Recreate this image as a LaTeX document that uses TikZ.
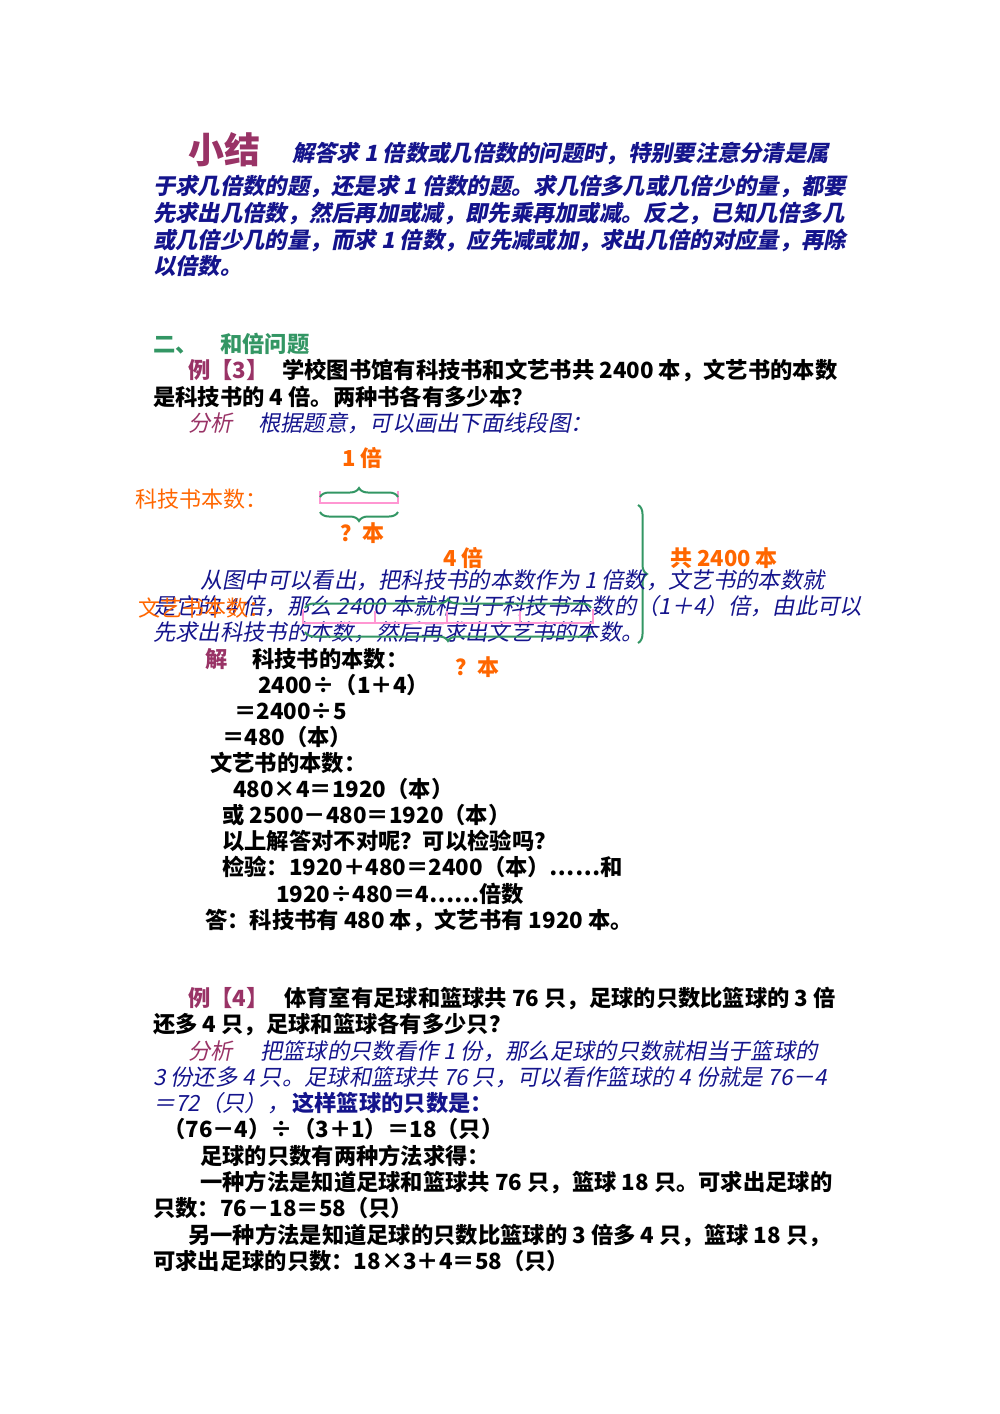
\documentclass[tikz,border=0pt]{standalone}
\usepackage{fontspec}
\setmainfont{Noto Sans CJK SC}
\newfontfamily\cjk{Noto Sans CJK SC}
\newfontfamily\cjki{Noto Sans CJK SC}[FakeSlant=0.2]
\usetikzlibrary{decorations.pathreplacing}
\definecolor{navy}{RGB}{20,20,140}
\definecolor{plum}{RGB}{153,51,102}
\definecolor{org}{RGB}{255,102,0}
\definecolor{grn}{RGB}{51,150,100}
\definecolor{pnk}{RGB}{255,150,210}
\begin{document}
\begin{tikzpicture}[x=1pt,y=-1pt,
 T/.style={anchor=base west,inner sep=0pt,font=\fontsize{22.3}{26}\selectfont\cjk},
 I/.style={T,text=navy,font=\fontsize{22.3}{26}\selectfont\cjki},
 IB/.style={T,text=navy,font=\fontsize{22.3}{26}\selectfont\cjki\bfseries},
 B/.style={T,font=\fontsize{22.3}{26}\selectfont\cjk\bfseries},
 O/.style={T,text=org,font=\fontsize{22}{26}\selectfont\cjk},
 OB/.style={T,text=org,font=\fontsize{22}{26}\selectfont\cjk\bfseries},
 P/.style={T,text=plum,font=\fontsize{22.3}{26}\selectfont\cjk\bfseries},
 br/.style={draw=grn,line width=2pt,decorate,decoration={brace,amplitude=9pt}},
 bar/.style={draw=pnk,line width=2.2pt}]
\useasboundingbox (0,0) rectangle (1000,1414);
% summary
\node[P,font=\fontsize{36}{40}\selectfont\cjk\bfseries] (xj) at (188,163) {小结};
\node[IB] (s1) at (292,161) {解答求 1 倍数或几倍数的问题时，特别要注意分清是属};
\node[IB] (s2) at (153,194) {于求几倍数的题，还是求 1 倍数的题。求几倍多几或几倍少的量，都要};
\node[IB] (s3) at (153,221) {先求出几倍数，然后再加或减，即先乘再加或减。反之，已知几倍多几};
\node[IB] (s4) at (153,248) {或几倍少几的量，而求 1 倍数，应先减或加，求出几倍的对应量，再除};
\node[IB] (s5) at (153,274) {以倍数。};
% section 2
\node[T,text=grn,font=\fontsize{22.3}{26}\selectfont\cjk\bfseries] (h2) at (153,352) {二、\quad 和倍问题};
\node[P] (e3) at (188,378) {例【3】};
\node[B] (q1) at (282,378) {学校图书馆有科技书和文艺书共 2400 本，文艺书的本数};
\node[B] (q2) at (153,405) {是科技书的 4 倍。两种书各有多少本？};
\node[I,text=plum] (fx) at (188,431) {分析};
\node[I] (fx2) at (258,431) {根据题意，可以画出下面线段图：};
% diagram
\node[OB] (b1) at (342,466) {1 倍};
\node[O] (kj) at (135,507) {科技书本数：};
\coordinate (a0) at (320,503); \coordinate (a1) at (398,503);
\draw[bar] (a0) ++(0,-12) -- (a0) -- (a1) -- ++(0,-12);
\draw[br] (320,497) -- (398,497);
\draw[br] (398,512) -- (320,512);
\node[OB] (qb1) at (340,541) {？本};
\node[OB] (b4) at (443,566) {4 倍};
\node[OB] (tot) at (670,566) {共 2400 本};
\draw[br] (638,505) -- (638,643);
% paragraph
\node[I] (p1) at (200,588) {从图中可以看出，把科技书的本数作为 1 倍数，文艺书的本数就};
\node[I] (p2) at (153,614) {是它的 4 倍，那么 2400 本就相当于科技书本数的（1＋4）倍，由此可以};
\node[I] (p3) at (153,640) {先求出科技书的本数，然后再求出文艺书的本数。};
\node[O] (wy) at (138,616) {文艺书本数：};
\coordinate (c0) at (303,623); \coordinate (c4) at (593,623);
\draw[bar] (c0) ++(0,-14) -- (c0) -- (c4) -- ++(0,-14);
\foreach \x in {375,447,520} \draw[bar] (\x,623) -- (\x,611);
\draw[br] (305,608) -- (591,608);
\draw[br] (591,632) -- (305,632);
\node[OB] (qb4) at (455,675) {？本};
% solution
\node[P] (j) at (205,667) {解};
\node[B] (l1) at (252,667) {科技书的本数：};
\node[B] (l2) at (258,693) {2400÷（1＋4）};
\node[B] (l3) at (234,719) {＝2400÷5};
\node[B] (l4) at (222,745) {＝480（本）};
\node[B] (l5) at (210,771) {文艺书的本数：};
\node[B] (l6) at (233,797) {480×4＝1920（本）};
\node[B] (l7) at (222,823) {或 2500－480＝1920（本）};
\node[B] (l8) at (222,849) {以上解答对不对呢？可以检验吗？};
\node[B] (l9) at (222,875) {检验：1920＋480＝2400（本）……和};
\node[B] (l10) at (276,902) {1920÷480＝4……倍数};
\node[B] (l11) at (205,928) {答：科技书有 480 本，文艺书有 1920 本。};
% example 4
\node[P] (e4) at (188,1006) {例【4】};
\node[B] (m1) at (284,1006) {体育室有足球和篮球共 76 只，足球的只数比篮球的 3 倍};
\node[B] (m2) at (153,1032) {还多 4 只，足球和篮球各有多少只？};
\node[I,text=plum] (fx4) at (188,1059) {分析};
\node[I] (n1) at (260,1059) {把篮球的只数看作 1 份，那么足球的只数就相当于篮球的};
\node[I] (n2) at (153,1085) {3 份还多 4 只。足球和篮球共 76 只，可以看作篮球的 4 份就是 76－4};
\node[I] (n3) at (153,1111) {＝72（只），};
\node[B,text=navy] (n3b) at (292,1111) {这样篮球的只数是：};
\node[B] (k1) at (163,1137) {（76－4）÷（3＋1）＝18（只）};
\node[B] (k2) at (200,1164) {足球的只数有两种方法求得：};
\node[B] (k3) at (200,1190) {一种方法是知道足球和篮球共 76 只，篮球 18 只。可求出足球的};
\node[B] (k4) at (153,1216) {只数：76－18＝58（只）};
\node[B] (k5) at (188,1243) {另一种方法是知道足球的只数比篮球的 3 倍多 4 只，篮球 18 只，};
\node[B] (k6) at (153,1269) {可求出足球的只数：18×3＋4＝58（只）};
\end{tikzpicture}
\end{document}
